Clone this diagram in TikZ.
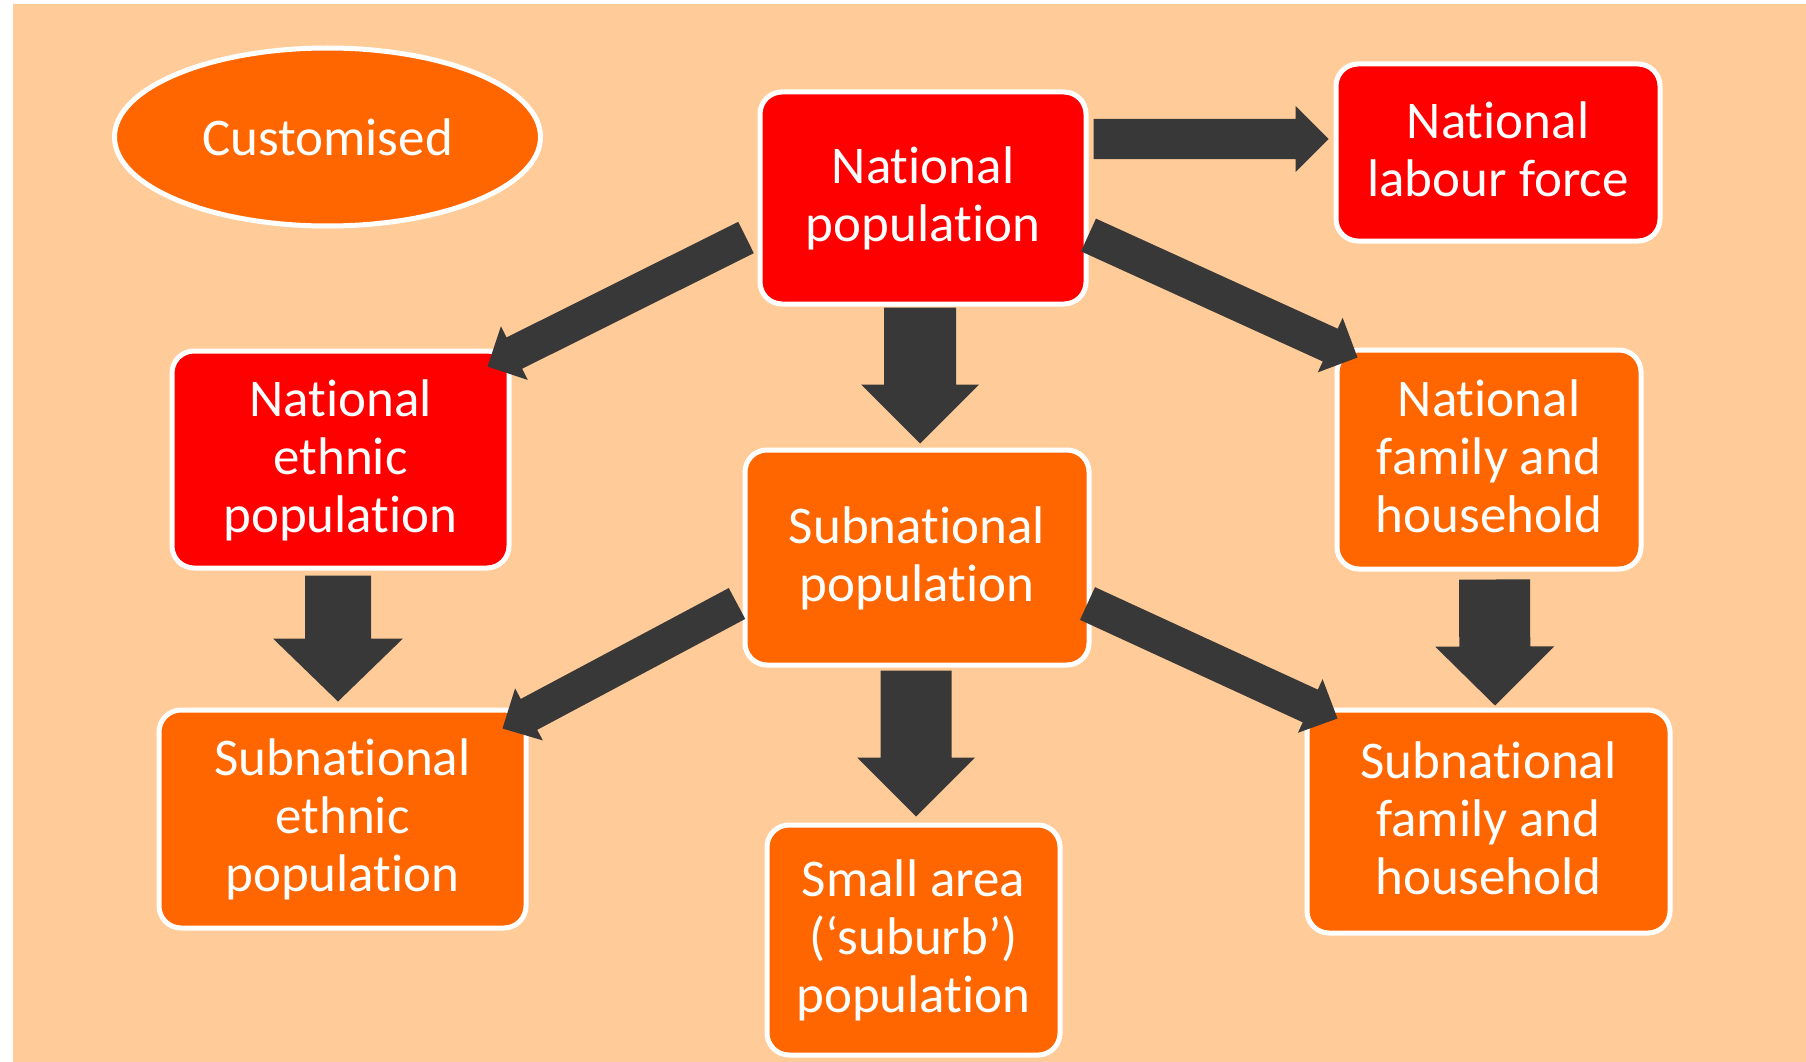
\documentclass[tikz,border=0pt]{standalone}
\usepackage{fontspec}
\setmainfont{Carlito}[Ligatures={NoCommon,NoContextual}]
\usetikzlibrary{calc,shapes.geometric}
\definecolor{peach}{HTML}{FFCC99}
\definecolor{boxred}{HTML}{FF0000}
\definecolor{boxorange}{HTML}{FF6600}
\definecolor{arrowfill}{HTML}{383838}
\newcommand\blockarr[5]{%
  \coordinate (tmpB) at ($(#2)!#5!(#1)$);
  \fill[arrowfill] ($(#1)!#3!90:(#2)$) -- ($(tmpB)!#3!90:(#2)$) -- ($(tmpB)!#4!90:(#2)$) -- (#2)
    -- ($(tmpB)!#4!-90:(#2)$) -- ($(tmpB)!#3!-90:(#2)$) -- ($(#1)!#3!-90:(#2)$) -- cycle;
}
\newcommand\tstrut{\rule{0pt}{43pt}}
\newcommand\bstrut{\rule[-14pt]{0pt}{14pt}}
\newcommand\ti{t\kern0pt{}i}
\begin{document}
\begin{tikzpicture}[x=1pt,y=-1pt,
  box/.style={rectangle, rounded corners=22pt, draw=white, line width=5pt, text=white,
    align=center, inner sep=0pt, font=\fontsize{53}{58}\selectfont},
  redbox/.style={box, fill=boxred},
  orangebox/.style={box, fill=boxorange}]
\useasboundingbox (0,0) rectangle (1806,1062);
\fill[white] (0,0) rectangle (1806,1062);
\fill[peach] (13,4) rectangle (1806,1062);

\node[ellipse, draw=white, line width=5pt, fill=boxorange, text=white, inner sep=0pt,
  minimum width=426pt, minimum height=178pt, font=\fontsize{53}{58}\selectfont] (cust) at (327.5,137) {Customised};

\node[redbox, minimum width=326pt, minimum height=212pt] (np) at (923,198) {\tstrut Na\ti onal\\popula\ti on\bstrut};
\node[redbox, minimum width=324pt, minimum height=177pt] (nlf) at (1498,152.5) {\tstrut Na\ti onal\\labour force\bstrut};
\node[redbox, minimum width=337pt, minimum height=217pt] (nep) at (340.5,459.5) {\tstrut Na\ti onal\\ethnic\\popula\ti on\bstrut};
\node[orangebox, minimum width=344pt, minimum height=215pt] (sp) at (917,557.5) {\tstrut Subna\ti onal\\popula\ti on\bstrut};
\node[orangebox, minimum width=304pt, minimum height=219pt] (nfh) at (1489,459.5) {\tstrut Na\ti onal\\family and\\household\bstrut};
\node[orangebox, minimum width=367pt, minimum height=218pt] (sep) at (342.5,819) {\tstrut Subna\ti onal\\ethnic\\popula\ti on\bstrut};
\node[orangebox, minimum width=293pt, minimum height=230pt] (sa) at (913.5,940) {\tstrut Small area\\(‘suburb’)\\popula\ti on\bstrut};
\node[orangebox, minimum width=363pt, minimum height=223pt] (sfh) at (1488.5,821.5) {\tstrut Subna\ti onal\\family and\\household\bstrut};

% connector end points
\coordinate (a1s) at ($(np.east)+(5,-59)$);
\coordinate (a1e) at ($(nlf.west)+(-5,-13.5)$);
\coordinate (a2s) at ($(np.west)+(-11.5,39.5)$);
\coordinate (a2e) at ($(nep.north east)+(-24,18)$);
\coordinate (a3s) at ($(np.south)+(-3,1)$);
\coordinate (a3e) at ($(sp.north)+(3,-4)$);
\coordinate (a4s) at ($(np.east)+(0,37)$);
\coordinate (a4e) at ($(nfh.north west)+(23,10)$);
\coordinate (a5s) at ($(nep.south)+(-2.5,5)$);
\coordinate (a5e) at ($(sep.north)+(-4.5,-6)$);
\coordinate (a6s) at ($(sp.west)+(-5.5,46)$);
\coordinate (a6e) at ($(sep.north east)+(-26,21)$);
\coordinate (a7s) at ($(sp.south)+(-1,3)$);
\coordinate (a7e) at ($(sa.north)+(2.5,-6)$);
\coordinate (a8s) at ($(sp.east)+(-4,46)$);
\coordinate (a8e) at ($(sfh.north west)+(33,11)$);
\coordinate (a9s) at ($(nfh.south)+(5.5,8)$);
\coordinate (a9e) at ($(sfh.north)+(6.5,-2)$);

\blockarr{a1s}{a1e}{20pt}{33pt}{33pt}
\blockarr{a2s}{a2e}{17.5pt}{30pt}{30pt}
\blockarr{a3s}{a3e}{36pt}{59pt}{59pt}
\blockarr{a4s}{a4e}{18pt}{30pt}{30pt}
\blockarr{a5s}{a5e}{33pt}{65pt}{63pt}
\blockarr{a6s}{a6e}{17.5pt}{29.5pt}{30pt}
\blockarr{a7s}{a7e}{35.5pt}{59pt}{59pt}
\blockarr{a8s}{a8e}{18pt}{29.5pt}{30pt}
\blockarr{a9s}{a9e}{35.5pt}{59.5pt}{59pt}
\end{tikzpicture}
\end{document}
